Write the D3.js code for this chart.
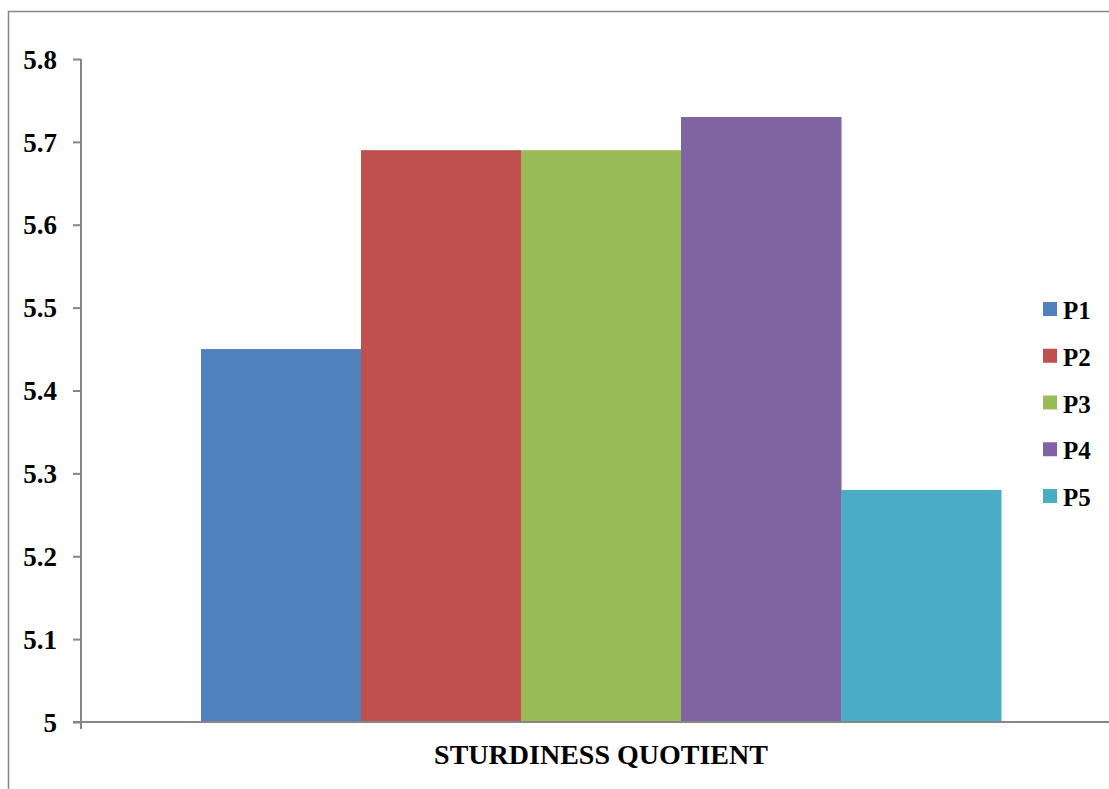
<!DOCTYPE html>
<html>
<head>
<meta charset="utf-8">
<script src="https://cdn.jsdelivr.net/npm/d3@7"></script>
<style>
  html, body { margin: 0; padding: 0; background: #fff; }
  svg { display: block; }
  text { font-family: "Liberation Serif", "Times New Roman", serif; font-weight: bold; fill: #000; }
</style>
</head>
<body>
<svg id="chart" width="1109" height="789"></svg>
<script>
// Sturdiness quotient per sample
const categories = ["STURDINESS QUOTIENT"];
const series = ["P1", "P2", "P3", "P4", "P5"];
const values = [5.45, 5.69, 5.69, 5.73, 5.28];
const colors = ["#4F81BD", "#C0504D", "#9BBB59", "#8064A2", "#4BACC6"];
const yTicks = [5, 5.1, 5.2, 5.3, 5.4, 5.5, 5.6, 5.7, 5.8];

const svg = d3.select("#chart");
const W = 1109, H = 789;
const plot = { left: 81, right: 1121, top: 59, bottom: 722 };
const axisColor = "#868686";

// chart frame
svg.append("rect")
  .attr("x", 8.5).attr("y", 11.5)
  .attr("width", W + 20).attr("height", H + 20)
  .attr("fill", "none").attr("stroke", axisColor).attr("stroke-width", 1.5);

const y = d3.scaleLinear().domain([5, 5.8]).range([plot.bottom, plot.top]);
const x0 = d3.scaleBand().domain(categories).range([plot.left, plot.right]).paddingOuter(0).paddingInner(0);
const x1 = d3.scaleBand().domain(series).range([120, x0.bandwidth() - 120]).padding(0);

// bars
const g = svg.append("g");
categories.forEach(cat => {
  g.selectAll(null).data(series).enter().append("rect")
    .attr("x", (s) => x0(cat) + x1(s))
    .attr("width", x1.bandwidth() + 0.5)
    .attr("y", (s, i) => y(values[i]))
    .attr("height", (s, i) => y(5) - y(values[i]))
    .attr("fill", (s, i) => colors[i]);
});

// y axis
const yAxis = d3.axisLeft(y).tickValues(yTicks).tickSize(8).tickPadding(16)
  .tickFormat(d => d3.format("")(+d.toFixed(1)));
const ya = svg.append("g").attr("transform", `translate(${plot.left},0)`).call(yAxis);
ya.select(".domain").attr("stroke", axisColor).attr("stroke-width", 2)
  .attr("d", `M0,${plot.top}V${plot.bottom + 7}`);
ya.selectAll(".tick line").attr("stroke", axisColor).attr("stroke-width", 2);
ya.selectAll(".tick text").style("font-size", "27px").attr("fill", "#000")
  .attr("dy", "0.34em")
  .style("font-family", "'Liberation Serif', serif").style("font-weight", "bold");

// x axis baseline
svg.append("line")
  .attr("x1", plot.left - 8).attr("x2", W)
  .attr("y1", y(5)).attr("y2", y(5))
  .attr("stroke", axisColor).attr("stroke-width", 2);

// category label
svg.selectAll(null).data(categories).enter().append("text")
  .attr("x", d => x0(d) + 120 + (x0.bandwidth() - 240) / 2)
  .attr("y", 764)
  .attr("text-anchor", "middle")
  .style("font-size", "28px")
  .text(d => d);

// legend
const legend = svg.append("g").attr("transform", "translate(1043,302)");
const items = legend.selectAll("g").data(series).enter().append("g")
  .attr("transform", (d, i) => `translate(0,${i * 46.75})`);
items.append("rect").attr("width", 14).attr("height", 14).attr("fill", (d, i) => colors[i]);
items.append("text").attr("x", 20).attr("y", 17).style("font-size", "25px").text(d => d);
</script>
</body>
</html>
